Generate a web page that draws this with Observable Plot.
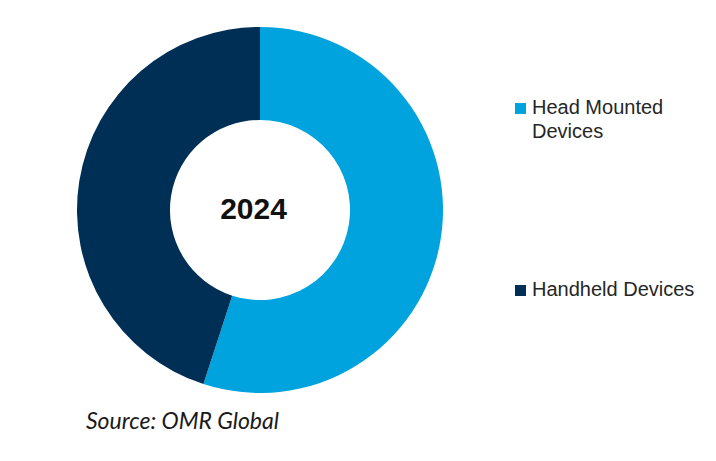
<!DOCTYPE html>
<html>
<head>
<meta charset="utf-8">
<script src="https://cdn.jsdelivr.net/npm/d3@7"></script>
<script src="https://cdn.jsdelivr.net/npm/@observablehq/plot@0.6"></script>
<style>
  html, body { margin: 0; padding: 0; background: #fff; }
  #wrap { position: relative; width: 716px; height: 461px; overflow: hidden; }
  #chart { position: absolute; left: 0; top: 0; }
  .leg { position: absolute; font-family: "Liberation Sans", Arial, sans-serif; font-size: 20px; color: #262626; line-height: 24px; }
  .sw { position: absolute; width: 11px; height: 11px; }
  #source { position: absolute; left: 86px; top: 406px; font-family: Lato, "Open Sans", sans-serif; font-style: italic; font-size: 23px; color: #1a1a1a; }
</style>
</head>
<body>
<div id="wrap">
  <div id="chart"></div>
  <div id="legend"></div>
  <div id="source"></div>
</div>
<script>
const categories = ["Head Mounted Devices", "Handheld Devices"];
const shares = [55, 45];
const colors = ["#00A3DE", "#002F56"];
const legendLines = [["Head Mounted", "Devices"], ["Handheld Devices"]];
const centerLabel = "2024";
const sourceText = "Source: OMR Global";

const data = categories.map((c, i) => ({category: c, share: shares[i]}));
const colorScale = Plot.scale({color: {type: "ordinal", domain: categories, range: colors}});

function donutMark(index, scales) {
  const cx = scales.x(0), cy = scales.y(0);
  const rOuter = scales.x(1) - scales.x(0);
  const rInner = rOuter * 0.492;
  const pie = d3.pie().sort(null).value(d => d.share)(data);
  const arc = d3.arc().innerRadius(rInner).outerRadius(rOuter);
  const g = d3.create("svg:g").attr("transform", `translate(${cx},${cy})`);
  g.selectAll("path").data(pie).join("path")
    .attr("d", arc)
    .attr("fill", d => colorScale.apply(d.data.category));
  return g.node();
}

const chart = Plot.plot({
  width: 716,
  height: 400,
  margin: 0,
  x: {domain: [-1, 1], range: [77, 443], axis: null},
  y: {domain: [-1, 1], range: [393, 27], axis: null},
  marks: [
    donutMark,
    Plot.text([centerLabel], {x: 0, y: 0, text: d => d, dx: -7, dy: -1, fontSize: 30, fontWeight: "bold", fill: "#111", fontFamily: "Liberation Sans, Arial, sans-serif"})
  ]
});
document.getElementById("chart").appendChild(chart);

// legend
const legend = document.getElementById("legend");
const legendTops = [95, 277];
categories.forEach((c, i) => {
  const sw = document.createElement("div");
  sw.className = "sw";
  sw.style.left = "515px";
  sw.style.top = (legendTops[i] + 8) + "px";
  sw.style.background = colorScale.apply(c);
  legend.appendChild(sw);
  const t = document.createElement("div");
  t.className = "leg";
  t.style.left = "532px";
  t.style.top = legendTops[i] + "px";
  t.innerHTML = legendLines[i].join("<br>");
  legend.appendChild(t);
});
document.getElementById("source").textContent = sourceText;
</script>
</body>
</html>
